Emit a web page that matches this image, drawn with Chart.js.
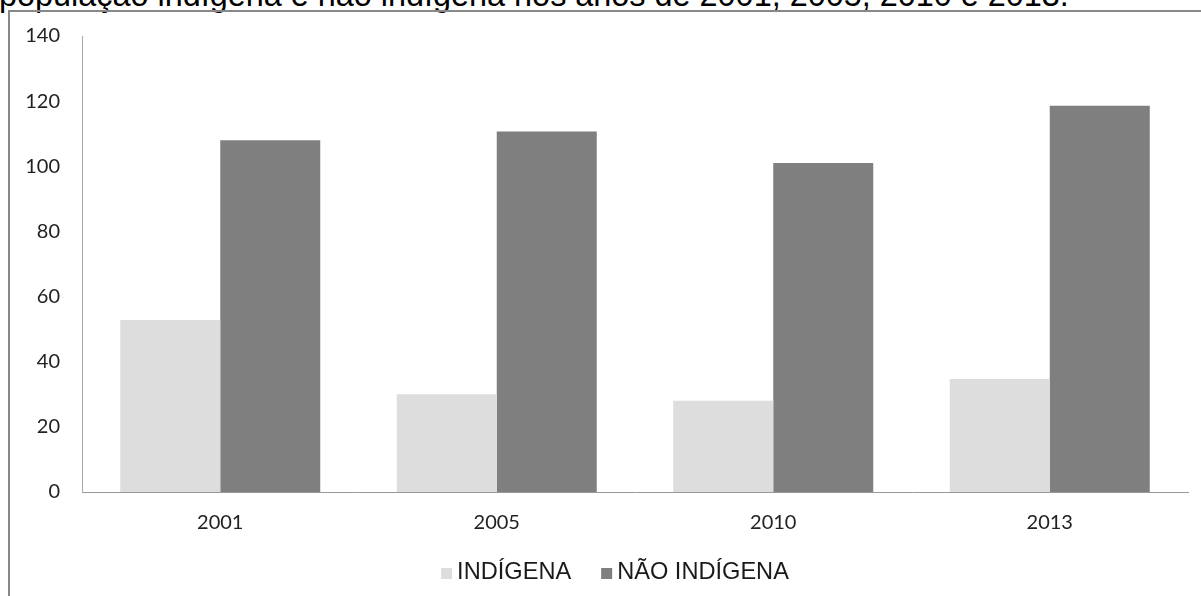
<!DOCTYPE html>
<html>
<head>
<meta charset="utf-8">
<script src="https://cdn.jsdelivr.net/npm/chart.js@4/dist/chart.umd.min.js"></script>
<style>
  html, body { margin: 0; padding: 0; background: #fff; overflow: hidden; width: 1201px; height: 596px; }
  #title { position: absolute; left: -1px; top: -21px; font: 32.4px/32px "Liberation Sans", Arial, sans-serif; color: #000; white-space: nowrap; }
  #frame { position: absolute; left: 8px; top: 10px; width: 1400px; height: 800px; border-left: 2px solid #888; border-top: 2px solid #888; }
  #c { position: absolute; left: 0; top: 0; }
</style>
</head>
<body>
<div id="title">população indígena e não indígena nos anos de 2001, 2005, 2010 e 2013.</div>
<div id="frame"></div>
<canvas id="c" width="1201" height="596"></canvas>
<script>
// Anos e valores das séries
const years = ['2001', '2005', '2010', '2013'];
const indigena = [52.8, 30, 28, 34.7];
const naoIndigena = [108, 110.7, 101, 118.6];
const seriesNames = ['INDÍGENA', 'NÃO INDÍGENA'];
const seriesColors = ['#DDDDDD', '#7F7F7F'];
const yTicks = [0, 20, 40, 60, 80, 100, 120, 140];

// Legenda desenhada abaixo do eixo, centrada na moldura do gráfico
const bottomLegend = {
  id: 'bottomLegend',
  afterDraw(chart) {
    const ctx = chart.ctx;
    ctx.save();
    ctx.font = '23.6px "Liberation Sans", Arial, sans-serif';
    const box = 11, gap = 5, itemGap = 30;
    const items = chart.data.datasets.map(d => ({
      text: d.label, color: d.backgroundColor, w: ctx.measureText(d.label).width
    }));
    const total = items.reduce((s, it) => s + box + gap + it.w, 0) + itemGap * (items.length - 1);
    let x = 615 - total / 2;
    const baseline = 579;
    ctx.textBaseline = 'alphabetic';
    ctx.textAlign = 'left';
    items.forEach(it => {
      ctx.fillStyle = it.color;
      ctx.fillRect(x, 568, box, box);
      x += box + gap;
      ctx.fillStyle = '#1a1a1a';
      ctx.fillText(it.text, x, baseline);
      x += it.w + itemGap;
    });
    ctx.restore();
  }
};

const tickFont = { family: 'Lato, "Open Sans", sans-serif', size: 20 };

new Chart(document.getElementById('c'), {
  type: 'bar',
  data: {
    labels: years,
    datasets: [
      { label: seriesNames[0], data: indigena, backgroundColor: seriesColors[0], borderWidth: 0 },
      { label: seriesNames[1], data: naoIndigena, backgroundColor: seriesColors[1], borderWidth: 0 }
    ]
  },
  options: {
    responsive: false,
    animation: false,
    devicePixelRatio: 1,
    layout: { padding: { top: 36, right: 13, left: 0, bottom: 0 } },
    datasets: { bar: { categoryPercentage: 0.7233, barPercentage: 1 } },
    plugins: { legend: { display: false }, tooltip: { enabled: false } },
    scales: {
      x: {
        grid: { display: false, drawTicks: false },
        border: { display: true, color: '#999999', width: 1 },
        ticks: { font: tickFont, color: '#222222', padding: 19 },
        afterFit: s => { s.height = 104; }
      },
      y: {
        min: 0,
        max: 140,
        afterBuildTicks: s => { s.ticks = yTicks.map(v => ({ value: v })); },
        grid: { display: false, drawTicks: false },
        border: { display: true, color: '#AAAAAA', width: 1 },
        ticks: { font: tickFont, color: '#222222', padding: 22 },
        afterFit: s => { s.width = 82; }
      }
    }
  },
  plugins: [bottomLegend]
});
</script>
</body>
</html>
